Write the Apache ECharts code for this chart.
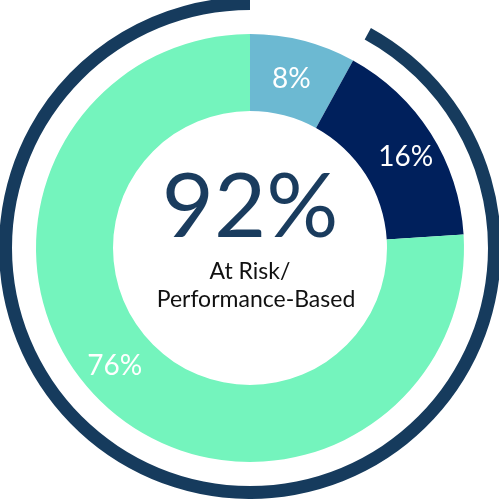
<!DOCTYPE html>
<html><head><meta charset="utf-8">
<script src="https://cdn.jsdelivr.net/npm/echarts@6/dist/echarts.min.js"></script>
<style>html,body{margin:0;padding:0;background:#fff}#c{width:499px;height:499px}</style>
</head><body><div id="c"></div>
<script>
var categories = ['Slice A', 'Slice B', 'Slice C'];
var values = [8, 16, 76];
var labels = ['8%', '16%', '76%'];
var ringValues = [8, 92];
var centerValue = '92%';
var centerLines = ['At Risk/', 'Performance-Based'];
var colors = ['#6cb9d2', '#00205c', '#74f4bd'];
var labelOffsets = [[-3, 4], [5, 5], [-13, -12]];

var chart = echarts.init(document.getElementById('c'), null, {renderer: 'canvas'});
chart.setOption({
  animation: false,
  series: [
    {
      type: 'pie', center: [250, 248], radius: [137, 214], startAngle: 90, clockwise: true,
      silent: true,
      label: {show: true, position: 'inside', color: '#fff', fontFamily: 'Lato', fontWeight: 400, fontSize: 28,
        formatter: function (p) { return labels[p.dataIndex]; }},
      labelLine: {show: false},
      data: categories.map(function (c, i) {
        return {name: c, value: values[i], itemStyle: {color: colors[i]}, label: {offset: labelOffsets[i]}};
      })
    },
    {
      type: 'pie', center: [250, 248], radius: [238, 251], startAngle: 90, clockwise: true,
      silent: true, label: {show: false}, labelLine: {show: false},
      data: [
        {name: 'gap', value: ringValues[0], itemStyle: {color: 'rgba(0,0,0,0)'}},
        {name: 'ring', value: ringValues[1], itemStyle: {color: '#163b5d'}}
      ]
    }
  ],
  graphic: [
    {type: 'text', x: 250, y: 208, style: {text: centerValue, fill: '#1a3c5e', font: '400 90px Lato', align: 'center', verticalAlign: 'middle'}},
    {type: 'text', x: 250, y: 272, style: {text: centerLines[0], fill: '#111', font: '400 23px Lato', align: 'center', verticalAlign: 'middle'}},
    {type: 'text', x: 256, y: 300, style: {text: centerLines[1], fill: '#111', font: '400 23px Lato', align: 'center', verticalAlign: 'middle'}}
  ]
});
</script></body></html>
